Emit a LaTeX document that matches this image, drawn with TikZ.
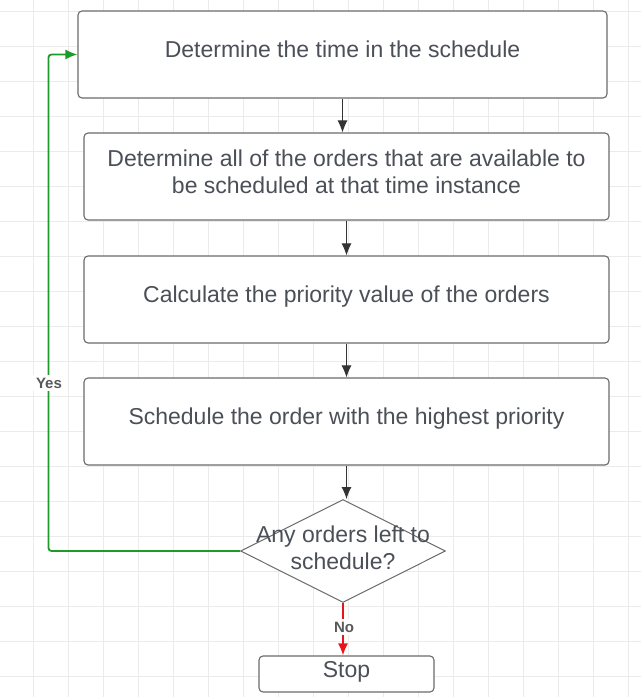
\documentclass[tikz,border=0pt]{standalone}
\usepackage{fontspec}
\setmainfont{Liberation Sans}
\usetikzlibrary{shapes.geometric,arrows.meta}

\definecolor{txtgray}{HTML}{4B4F57}
\definecolor{linegray}{HTML}{6A6A6A}
\definecolor{gridgray}{HTML}{EBEBEB}
\definecolor{yesgreen}{HTML}{1E9A2A}
\definecolor{nored}{HTML}{E8141B}

\begin{document}
\begin{tikzpicture}[x=1pt, y=-1pt, font=\fontsize{23}{27.5}\selectfont,
  box/.style={draw=linegray, line width=1.1pt, rounded corners=4pt, fill=white,
              text=txtgray, minimum height=87pt, align=center, inner sep=0pt,
              text depth=10pt},
  decide/.style={diamond, draw=linegray, line width=1pt, fill=white,
                 minimum width=205pt, minimum height=103pt, inner sep=0pt},
  arr/.style={-{Latex[length=12pt,width=10pt]}, line width=1pt, draw=black!80},
  lbl/.style={fill=white, text=black!65, inner sep=3pt,
              font=\fontsize{15}{17}\selectfont\bfseries}
]
  \useasboundingbox (0,0) rectangle (641,697);
  % background grid
  \foreach \gx in {0,...,17}
    \draw[gridgray, line width=1pt] (33+35*\gx,0) -- (33+35*\gx,697);
  \foreach \gy in {0,...,19}
    \draw[gridgray, line width=1pt] (0,11+35*\gy) -- (641,11+35*\gy);

  \node[box, minimum width=529pt] (time)   at (342.5,54.5) {Determine the time in the schedule};
  \node[box, minimum width=525pt] (avail)  at (346.5,176.5) {Determine all of the orders that are available to\\be scheduled at that time instance};
  \node[box, minimum width=525pt] (prio)   at (346.5,299.5) {Calculate the priority value of the orders};
  \node[box, minimum width=525pt] (sched)  at (346.5,421.5) {Schedule the order with the highest priority};
  \node[decide] (left) at (343,551)
    [label={[text=txtgray, align=center, yshift=3pt]center:Any orders left to\\schedule?}] {};
  \node[box, minimum width=175pt, minimum height=36pt] (stop) at (346.5,674) {Stop};

  \draw[arr] (time.south)  -- (time.south |- avail.north);
  \draw[arr] (avail.south) -- (avail.south |- prio.north);
  \draw[arr] (prio.south)  -- (prio.south |- sched.north);
  \draw[arr] (sched.south) -- (sched.south |- left.north);
  % loop back while orders remain
  \draw[arr, draw=yesgreen, line width=1.8pt, rounded corners=3pt]
    (left.west) -| ([xshift=-29pt]time.west) -- (time.west);
  \draw[arr, draw=nored, line width=1.8pt] (left.south) -- (left.south |- stop.north);
  \node[lbl] (yes) at (49,383) {Yes};
  \node[lbl] (no)  at (344,627) {No};
\end{tikzpicture}
\end{document}
